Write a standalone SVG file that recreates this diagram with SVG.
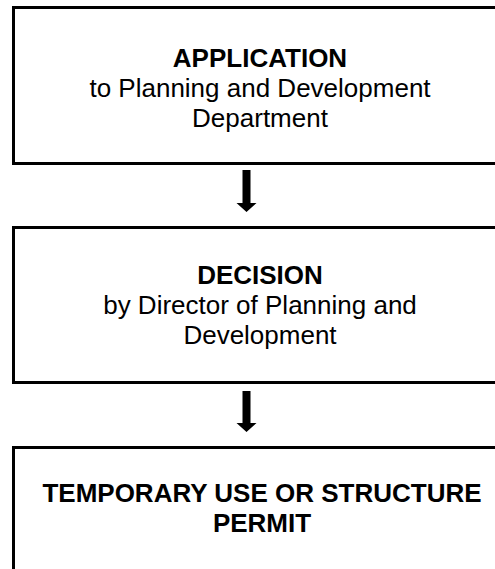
<svg xmlns="http://www.w3.org/2000/svg" width="495" height="569" viewBox="0 0 495 569">
  <style>
    .box { fill: #ffffff; stroke: #000000; stroke-width: 3; }
    .title { font-family: "Liberation Sans", Arial, sans-serif; font-size: 26px; font-weight: bold; text-anchor: middle; fill: #000000; }
    .body { font-family: "Liberation Sans", Arial, sans-serif; font-size: 26px; text-anchor: middle; fill: #000000; }
    .arrow { fill: #000000; }
  </style>
  <rect x="0" y="0" width="495" height="569" fill="#ffffff"/>

  <!-- Step 1 -->
  <g id="application">
    <rect class="box" x="13.5" y="7.5" width="495" height="156"/>
    <text class="title" x="260" y="67">APPLICATION</text>
    <text class="body" x="260" y="97">to Planning and Development</text>
    <text class="body" x="260" y="127">Department</text>
  </g>

  <!-- Step 2 -->
  <g id="decision">
    <rect class="box" x="13.5" y="227.5" width="495" height="155"/>
    <text class="title" x="260" y="284">DECISION</text>
    <text class="body" x="260" y="314">by Director of Planning and</text>
    <text class="body" x="260" y="344">Development</text>
  </g>

  <!-- Step 3 -->
  <g id="permit">
    <rect class="box" x="13.5" y="447.5" width="495" height="140"/>
    <text class="title" x="262" y="502">TEMPORARY USE OR STRUCTURE</text>
    <text class="title" x="262" y="532">PERMIT</text>
  </g>

  <!-- Block arrows between steps -->
  <g id="connectors">
    <path class="arrow" d="M242.5 170 H250.5 V203 H256.5 L246.5 212 L236.5 203 H242.5 Z"/>
    <path class="arrow" d="M242.5 391 H250.5 V423 H256.5 L246.5 432 L236.5 423 H242.5 Z"/>
  </g>
</svg>
